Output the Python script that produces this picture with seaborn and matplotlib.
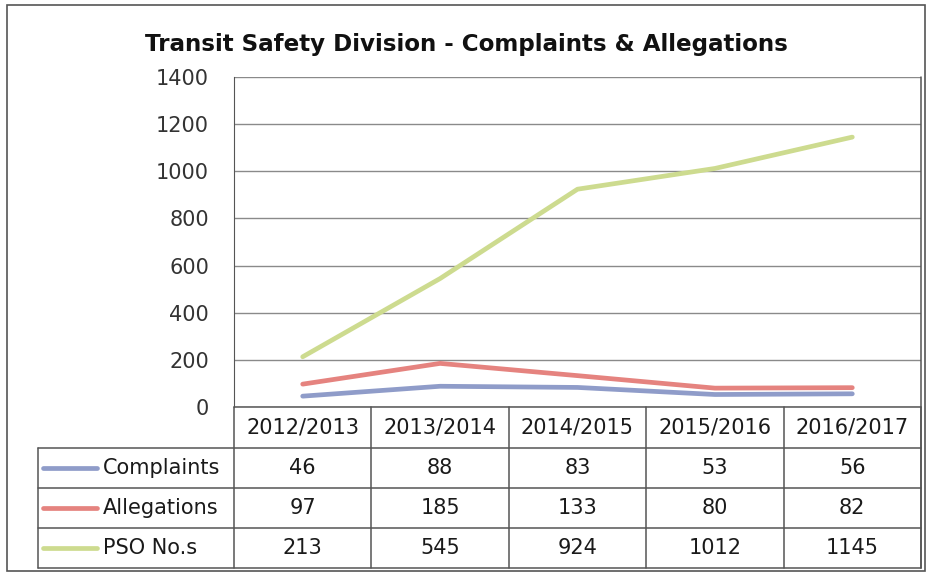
import pandas as pd
import matplotlib.pyplot as plt
import matplotlib.transforms as mtransforms
import seaborn as sns

# %% data read off the chart / table
years = ['2012/2013', '2013/2014', '2014/2015', '2015/2016', '2016/2017']
complaints = [46, 88, 83, 53, 56]
allegations = [97, 185, 133, 80, 82]
pso = [213, 545, 924, 1012, 1145]

series_names = ['Complaints', 'Allegations', 'PSO No.s']
colors = {'Complaints': '#8f9cc9', 'Allegations': '#e5837f', 'PSO No.s': '#cddb8f'}

df = pd.DataFrame({'year': years, 'Complaints': complaints,
                   'Allegations': allegations, 'PSO No.s': pso})
long = df.melt(id_vars='year', var_name='series', value_name='value')

# %% plot
sns.set_style('white')
plt.rcParams['font.family'] = ['DejaVu Sans']

fig = plt.figure(figsize=(9.29, 5.74), dpi=100)
W, H = 929, 574
ax = fig.add_axes([234 / W, 1 - 407 / H, (921 - 234) / W, (407 - 77) / H])

long['x'] = long['year'].map({y: i for i, y in enumerate(years)})
zord = {'Complaints': 4, 'Allegations': 3, 'PSO No.s': 2}
for name in series_names:
    sns.lineplot(data=long[long['series'] == name], x='x', y='value', ax=ax,
                 color=colors[name], lw=3.4, zorder=zord[name], legend=False)

ax.set_xlim(-0.5, len(years) - 0.5)
ax.set_ylim(0, 1400)
ax.set_yticks(range(0, 1401, 200))
ax.set_xticks([])
ax.set_xlabel('')
ax.set_ylabel('')
ax.grid(axis='y', color='#8a8a8a', lw=1)
ax.set_axisbelow(True)
for s in ['top', 'bottom', 'right']:
    ax.spines[s].set_visible(False)
ax.spines['left'].set_color('#555555')
ax.tick_params(axis='y', length=0, pad=18, labelsize=15, labelcolor='#333333')

# %% data table below the plot (x in data units, y in axes fraction)
tr = mtransforms.blended_transform_factory(ax.transData, ax.transAxes)
px = (407 - 77)  # axes height in px
rows_y = [0, -(448 - 407) / px, -(488 - 407) / px, -(528 - 407) / px, -(568 - 407) / px]
left_x = -0.5 - (234 - 38) / 137.4
right_x = len(years) - 0.5
lkw = dict(color='#555555', lw=1.1, transform=tr, clip_on=False)

# horizontal rules
ax.plot([-0.5, right_x], [rows_y[0]] * 2, **lkw)
for y in rows_y[1:]:
    ax.plot([left_x, right_x], [y, y], **lkw)
# vertical rules
for i in range(len(years) + 1):
    ax.plot([i - 0.5, i - 0.5], [rows_y[0], rows_y[-1]], **lkw)
ax.plot([right_x, right_x], [1, rows_y[-1]], **lkw)
ax.plot([left_x, left_x], [rows_y[1], rows_y[-1]], **lkw)

tkw = dict(transform=tr, fontsize=15, ha='center', va='center', color='#1a1a1a')
for i, y in enumerate(years):
    ax.text(i, (rows_y[0] + rows_y[1]) / 2, y, **tkw)
for r, name in enumerate(series_names):
    yc = (rows_y[r + 1] + rows_y[r + 2]) / 2
    for i, v in enumerate(df[name]):
        ax.text(i, yc, str(v), **tkw)
    # legend key + label
    ax.plot([left_x + 0.04, left_x + 0.43], [yc, yc], color=colors[name], lw=3.4,
            transform=tr, clip_on=False, solid_capstyle='round')
    ax.text(left_x + 0.47, yc, name, transform=tr, fontsize=15, ha='left',
            va='center', color='#1a1a1a')

fig.suptitle('Transit Safety Division - Complaints & Allegations', x=0.502,
             y=1 - 45 / H, va='center', fontsize=16.6, fontweight='bold', color='#111111')

# outer frame
fig.add_artist(plt.Rectangle((7 / W, 1 - 571 / H), (925 - 7) / W, (571 - 5) / H,
                             transform=fig.transFigure, fill=False, ec='#555555', lw=1.2))

fig.savefig('out.png', dpi=100)
